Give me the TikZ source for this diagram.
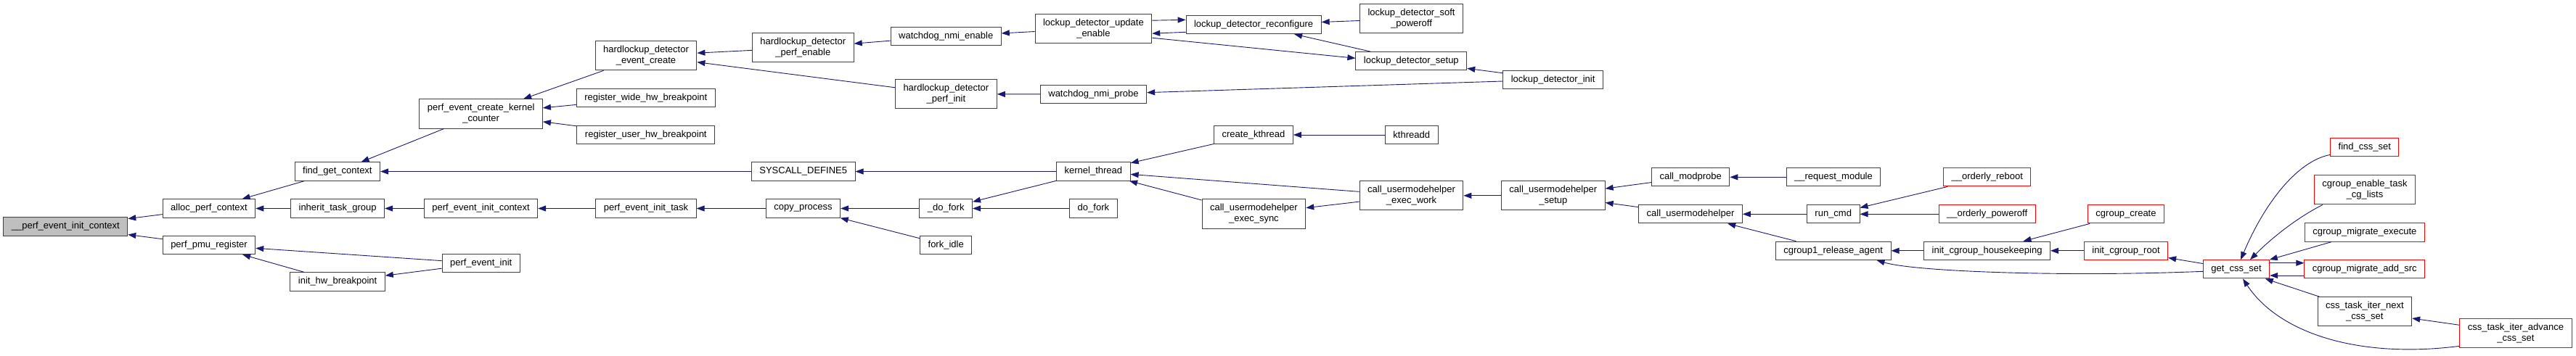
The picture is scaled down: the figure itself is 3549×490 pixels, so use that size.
\documentclass[tikz,border=0pt]{standalone}
\usepackage{fontspec}
\setmainfont{Liberation Sans}
\usetikzlibrary{arrows.meta,calc}
\definecolor{Edge}{HTML}{191970}
\definecolor{Frame}{HTML}{404040}
\definecolor{Trunc}{HTML}{FF0000}
\definecolor{Root}{HTML}{BFBFBF}

\begin{document}
\begin{tikzpicture}[x=1pt,y=-1pt,
  fn/.style={rectangle,draw=Frame,fill=white,line width=1pt,inner xsep=11pt,inner ysep=0pt,minimum height=25.3pt,align=center,font=\fontsize{13}{15}\selectfont},
  fntrunc/.style={fn,draw=Trunc},
  fnroot/.style={fn,fill=Root},
  tall/.style={minimum height=40.3pt},
  call/.style={draw=Edge,line width=0.9pt,-{Triangle[length=11pt,width=8pt]}}
]
\fill[white] (0,0) rectangle (3549,490);
\useasboundingbox (0,0) rectangle (3549,490);
\node[fnroot] (root) at (90.3,312.5) {\_\_perf\_event\_init\_context};
\node[fn] (alloc) at (288,287.5) {alloc\_perf\_context};
\node[fn] (pmureg) at (288,338) {perf\_pmu\_register};
\node[fn] (findctx) at (464.9,236.5) {find\_get\_context};
\node[fn] (inherit) at (465.1,287.5) {inherit\_task\_group};
\node[fn] (inithwbp) at (465.1,388.5) {init\_hw\_breakpoint};
\node[fn,tall] (kcounter) at (662.7,157) {perf\_event\_create\_kernel\\\_counter};
\node[fn] (initctx) at (662.5,287.5) {perf\_event\_init\_context};
\node[fn] (evinit) at (662.7,363.3) {perf\_event\_init};
\node[fn,tall] (hldcreate) at (890,76.7) {hardlockup\_detector\\\_event\_create};
\node[fn] (regwide) at (889.8,135.2) {register\_wide\_hw\_breakpoint};
\node[fn] (reguser) at (889.8,186) {register\_user\_hw\_breakpoint};
\node[fn] (inittask) at (890,287.5) {perf\_event\_init\_task};
\node[fn,tall] (hldenable) at (1106.3,65.8) {hardlockup\_detector\\\_perf\_enable};
\node[fn] (syscall) at (1106.7,236.5) {SYSCALL\_DEFINE5};
\node[fn] (copyproc) at (1106.5,287.5) {copy\_process};
\node[fn] (nmienable) at (1303.2,50) {watchdog\_nmi\_enable};
\node[fn,tall] (hldinit) at (1303.4,129.8) {hardlockup\_detector\\\_perf\_init};
\node[fn] (dofork1) at (1303.2,287.5) {\_do\_fork};
\node[fn] (forkidle) at (1303.2,338) {fork\_idle};
\node[fn,tall] (ldupdate) at (1506.4,39.2) {lockup\_detector\_update\\\_enable};
\node[fn] (nmiprobe) at (1506.5,130) {watchdog\_nmi\_probe};
\node[fn] (kthread) at (1506.4,236.5) {kernel\_thread};
\node[fn] (dofork) at (1506.4,287.5) {do\_fork};
\node[fn] (ldreconf) at (1727.1,34) {lockup\_detector\_reconfigure};
\node[fn] (createkt) at (1727,186) {create\_kthread};
\node[fn,tall] (umhsync) at (1727.4,295) {call\_usermodehelper\\\_exec\_sync};
\node[fn,tall] (ldsoft) at (1944.5,25.8) {lockup\_detector\_soft\\\_poweroff};
\node[fn] (ldsetup) at (1944.3,84.3) {lockup\_detector\_setup};
\node[fn] (kthreadd) at (1944.7,186) {kthreadd};
\node[fn,tall] (umhwork) at (1944.5,269.8) {call\_usermodehelper\\\_exec\_work};
\node[fn] (ldinit) at (2139.6,109.8) {lockup\_detector\_init};
\node[fn,tall] (umhsetup) at (2139.8,269.8) {call\_usermodehelper\\\_setup};
\node[fn] (modprobe) at (2329.2,244.3) {call\_modprobe};
\node[fn] (umh) at (2329,295.3) {call\_usermodehelper};
\node[fn] (reqmod) at (2526,244.3) {\_\_request\_module};
\node[fn] (runcmd) at (2525.7,295.3) {run\_cmd};
\node[fn] (relagent) at (2525.7,345.8) {cgroup1\_release\_agent};
\node[fntrunc] (reboot) at (2737.8,244.3) {\_\_orderly\_reboot};
\node[fntrunc] (poweroff) at (2737.6,295.3) {\_\_orderly\_poweroff};
\node[fn] (housekeep) at (2737.6,345.8) {init\_cgroup\_housekeeping};
\node[fntrunc] (cgcreate) at (2929,295.3) {cgroup\_create};
\node[fntrunc] (cgroot) at (2929,345.8) {init\_cgroup\_root};
\node[fntrunc] (getcss) at (3081,371.3) {get\_css\_set};
\node[fntrunc] (findcss) at (3257.8,203.3) {find\_css\_set};
\node[fntrunc,tall] (cglists) at (3258,261.8) {cgroup\_enable\_task\\\_cg\_lists};
\node[fntrunc] (migexec) at (3257.8,320.5) {cgroup\_migrate\_execute};
\node[fntrunc] (migsrc) at (3257.8,371.3) {cgroup\_migrate\_add\_src};
\node[fn,tall] (iternext) at (3257.8,429.8) {css\_task\_iter\_next\\\_css\_set};
\node[fntrunc,tall] (iteradv) at (3465.9,459.3) {css\_task\_iter\_advance\\\_css\_set};
\foreach \a/\b in {alloc/root,pmureg/root,findctx/alloc,inherit/alloc,evinit/pmureg,inithwbp/pmureg,evinit/inithwbp,kcounter/findctx,syscall/findctx,initctx/inherit,hldcreate/kcounter,regwide/kcounter,reguser/kcounter,inittask/initctx,copyproc/inittask,hldenable/hldcreate,hldinit/hldcreate,nmienable/hldenable,kthread/syscall,dofork1/copyproc,forkidle/copyproc,ldupdate/nmienable,nmiprobe/hldinit,kthread/dofork1,dofork/dofork1,ldsoft/ldreconf,ldinit/ldsetup,ldinit/nmiprobe,createkt/kthread,umhwork/kthread,umhsync/kthread,kthreadd/createkt,umhwork/umhsync,umhsetup/umhwork,modprobe/umhsetup,umh/umhsetup,reqmod/modprobe,runcmd/umh,relagent/umh,reboot/runcmd,poweroff/runcmd,housekeep/relagent,cgcreate/housekeep,cgroot/housekeep,getcss/cgroot,migexec/getcss,iternext/getcss,iteradv/iternext} {
  \draw[call] (\a) -- (\b);
}
\draw[call] ($(ldupdate.east)+(0,-11)$) -- ($(ldreconf.west)+(0,-6.7)$);
\draw[call] ($(ldreconf.west)+(0,10.3)$) -- ($(ldupdate.east)+(0,7)$);
\draw[call] ($(ldupdate.east)+(0,13)$) -- ($(ldsetup.west)+(0,-4)$);
\draw[call] ([xshift=-56pt]ldsetup.north) -- ([xshift=56pt]ldreconf.south);
\draw[call] ($(getcss.east)+(0,-8.6)$) -- ($(migsrc.west)+(0,-8.6)$);
\draw[call] ($(migsrc.west)+(0,8.7)$) -- ($(getcss.east)+(0,8.7)$);
\draw[call] ([yshift=3pt]findcss.south west) .. controls (3165,222) and (3120,280) .. ([xshift=6pt]getcss.north);
\draw[call] ([xshift=12pt]cglists.south west) .. controls (3165,300) and (3130,328) .. ([xshift=19pt]getcss.north);
\draw[call] ([yshift=2.6pt]iteradv.south west) .. controls (3250,495) and (3140,460) .. ([xshift=9pt]getcss.south);
\draw[call] ([yshift=-3pt]getcss.west) .. controls (2850,382) and (2640,375) .. ([xshift=-20pt]relagent.south east);
\end{tikzpicture}
\end{document}
